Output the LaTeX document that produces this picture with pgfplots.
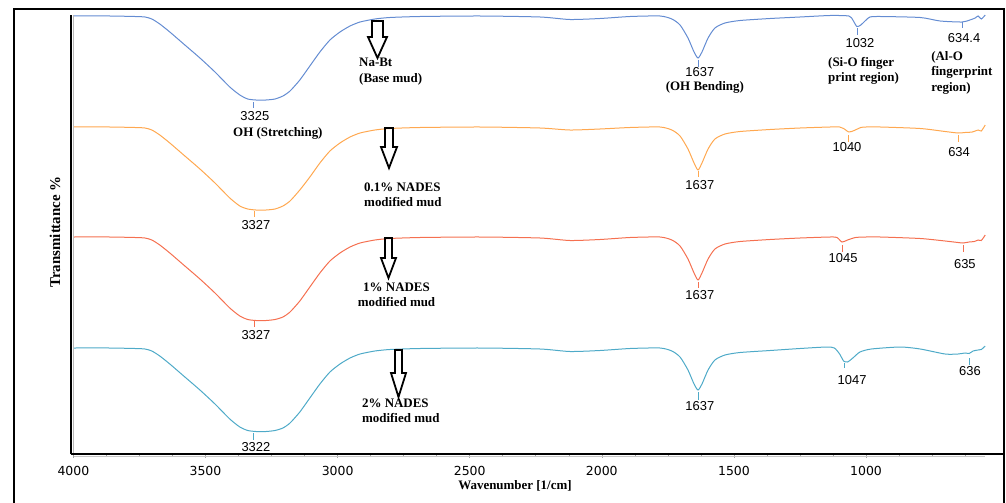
\documentclass[border=0pt]{standalone}
\usepackage{pgfplots}
\pgfplotsset{compat=1.18}
\usepackage{fontspec}
\setmainfont{Liberation Serif}
\newfontfamily\arialf{Liberation Sans}
\newfontfamily\dejavuf{DejaVu Sans}
\definecolor{cBlue}{RGB}{100,140,210}
\definecolor{cOrange}{RGB}{255,168,80}
\definecolor{cRed}{RGB}{245,112,80}
\definecolor{cTeal}{RGB}{78,170,200}
\newcommand{\pk}{\arialf\fontsize{13}{15}\selectfont}
\newcommand{\an}{\bfseries\fontsize{13}{15.5}\selectfont}
\begin{document}
\begin{tikzpicture}
\useasboundingbox (0bp,0bp) rectangle (1006bp,-503bp);
\draw[line width=2bp] (14bp,-510bp) -- (14bp,-9bp) -- (1004bp,-9bp) -- (1004bp,-510bp);
\begin{axis}[at={(71bp,-454bp)}, anchor=south west, scale only axis,
  width=933bp, height=439bp,
  xmin=478, xmax=4009, x dir=reverse, ymin=0, ymax=439,
  axis x line=bottom, axis y line=left,
  axis line style={-, line width=2.5bp, black},
  ytick=\empty,
  xtick={1000,1500,2000,2500,3000,3500,4000},
  minor xtick={625,750,875,1125,1250,1375,1625,1750,1875,2125,2250,2375,2625,2750,2875,3125,3250,3375,3625,3750,3875},
  tick align=outside, major tick length=4bp, minor tick length=3bp,
  xtick style={color=gray!70, line width=0.6bp},
  xticklabel style={font=\dejavuf\fontsize{12.5}{14}\selectfont, inner sep=0pt, anchor=north, yshift=-8.5bp},
  /pgf/number format/assume math mode=true,
  /pgf/number format/1000 sep={},
  clip=false,
  every axis plot/.append style={line width=1bp, smooth, tension=0.4, mark=none},
]
% Na-Bt (base mud)
\addplot[cBlue] coordinates {
(4000,438) (3862,438) (3767,437.5) (3729,437) (3703,435) (3673,430) (3635,422) (3578,409) (3521,396) (3464,382) (3408,367) (3370,359) (3340,355) (3309,354) (3271,354) (3237,355) (3207,358) (3180,363) (3143,374) (3105,388) (3067,402) (3029,414) (2991,422) (2953,428) (2915,432) (2859,435) (2802,436.5) (2688,437.5) (2461,438) (2234,437) (2121,434.5) (2007,435.5) (1893,437.5) (1780,438) (1735,435) (1704,429) (1674,416) (1651,402) (1636,396) (1621,402) (1598,416) (1572,426) (1534,431) (1477,433.5) (1363,435.5) (1250,437) (1136,438.5) (1065,438) (1050,434) (1035,427.5) (1020,429) (1000,434) (985,437) (946,437.5) (795,436.5) (720,433) (637,432) (607,434) (587,436) (576,438) (564,435) (549,439)};
% 0.1% NADES
\addplot[cOrange] coordinates {
(4000,327) (3862,327) (3767,326.5) (3729,326) (3703,324) (3673,319) (3635,311) (3578,298) (3521,285) (3464,271) (3408,256) (3370,248) (3340,245) (3309,244) (3271,244) (3237,245) (3207,248) (3180,253) (3143,264) (3105,277) (3067,291) (3029,303) (2991,311) (2953,317) (2915,321) (2859,324) (2802,325.5) (2688,326.5) (2461,327) (2234,326) (2121,324) (2007,325) (1893,326.5) (1780,327) (1735,324) (1704,318) (1674,305) (1651,291) (1636,284) (1621,291) (1598,305) (1572,315) (1534,320) (1477,322.5) (1363,324.5) (1250,326) (1136,327) (1100,327) (1085,325.5) (1065,322) (1045,323.5) (1020,326.5) (1000,327) (946,327) (795,325.5) (701,322.5) (652,321) (625,321.5) (598,322) (576,324) (564,323) (549,329)};
% 1% NADES
\addplot[cRed] coordinates {
(4000,217) (3862,217) (3767,216.5) (3729,216) (3703,214) (3673,209) (3635,201) (3578,188) (3521,175) (3464,161) (3408,146) (3370,138) (3340,134.5) (3309,133.5) (3271,133.5) (3237,134.5) (3207,137) (3180,142) (3143,153) (3105,167) (3067,181) (3029,193) (2991,201) (2953,207) (2915,211) (2859,214) (2802,215.5) (2688,216.5) (2461,217) (2234,216) (2121,213.5) (2007,214.5) (1893,216.5) (1780,217) (1735,214) (1704,208) (1674,195) (1651,181) (1636,174) (1621,181) (1598,195) (1572,205) (1534,210) (1477,212.5) (1363,214.5) (1250,216) (1136,217) (1110,216.5) (1091,212) (1070,214) (1040,216.5) (1000,217) (946,217) (795,215.5) (701,213) (652,211.5) (633,211) (610,212) (590,212.5) (576,214) (564,213.5) (549,219)};
% 2% NADES
\addplot[cTeal] coordinates {
(4000,106) (3862,106) (3767,105.5) (3729,105) (3703,103) (3673,98) (3635,90) (3578,77) (3521,64) (3464,50) (3408,35) (3370,27) (3340,23.5) (3309,22.5) (3271,22.5) (3237,23.5) (3207,26) (3180,31) (3143,42) (3105,56) (3067,70) (3029,82) (2991,90) (2953,96) (2915,100) (2859,103) (2802,104.5) (2688,105.5) (2461,106) (2234,105) (2121,102.5) (2007,103.5) (1893,105.5) (1780,106) (1735,103) (1704,97) (1674,84) (1651,70) (1636,64) (1621,70) (1598,84) (1572,94) (1534,99) (1477,101.5) (1363,103.5) (1250,105.5) (1150,107) (1120,106) (1100,100) (1085,93) (1070,92) (1050,96) (1023,102) (980,105) (871,107) (795,105) (701,100) (652,100) (625,101) (610,100.5) (595,103) (576,104) (564,104.5) (549,108)};

% peak ticks and labels
\draw[cBlue, line width=0.9bp] (axis cs:3320,352) -- (axis cs:3320,346);
\draw[cBlue, line width=0.9bp] (axis cs:1636,394) -- (axis cs:1636,387);
\draw[cBlue, line width=0.9bp] (axis cs:1031,426) -- (axis cs:1031,419);
\draw[cBlue, line width=0.9bp] (axis cs:637,432) -- (axis cs:637,426);
\node[font=\pk, inner sep=0pt] at (axis cs:3313,338) {3325};
\node[font=\pk, inner sep=0pt] at (axis cs:1629,382) {1637};
\node[font=\pk, inner sep=0pt] at (axis cs:1023,411) {1032};
\node[font=\pk, inner sep=0pt] at (axis cs:629,416) {634.4};

\draw[cOrange, line width=0.9bp] (axis cs:3316,243) -- (axis cs:3316,237);
\draw[cOrange, line width=0.9bp] (axis cs:1636,283) -- (axis cs:1636,277);
\draw[cOrange, line width=0.9bp] (axis cs:1065,319) -- (axis cs:1065,312);
\draw[cOrange, line width=0.9bp] (axis cs:652,319) -- (axis cs:652,312);
\node[font=\pk, inner sep=0pt] at (axis cs:3309,229) {3327};
\node[font=\pk, inner sep=0pt] at (axis cs:1629,269) {1637};
\node[font=\pk, inner sep=0pt] at (axis cs:1072,307) {1040};
\node[font=\pk, inner sep=0pt] at (axis cs:648,302) {634};

\draw[cRed, line width=0.9bp] (axis cs:3316,133) -- (axis cs:3316,127);
\draw[cRed, line width=0.9bp] (axis cs:1636,172) -- (axis cs:1636,166);
\draw[cRed, line width=0.9bp] (axis cs:1091,209) -- (axis cs:1091,202);
\draw[cRed, line width=0.9bp] (axis cs:633,209) -- (axis cs:633,202);
\node[font=\pk, inner sep=0pt] at (axis cs:3309,119) {3327};
\node[font=\pk, inner sep=0pt] at (axis cs:1629,159) {1637};
\node[font=\pk, inner sep=0pt] at (axis cs:1087,196) {1045};
\node[font=\pk, inner sep=0pt] at (axis cs:626,190) {635};

\draw[cTeal, line width=0.9bp] (axis cs:3320,21) -- (axis cs:3320,14);
\draw[cTeal, line width=0.9bp] (axis cs:1636,62) -- (axis cs:1636,54);
\draw[cTeal, line width=0.9bp] (axis cs:1080,91) -- (axis cs:1080,86);
\draw[cTeal, line width=0.9bp] (axis cs:607,96) -- (axis cs:607,89);
\node[font=\pk, inner sep=0pt] at (axis cs:3309,7) {3322};
\node[font=\pk, inner sep=0pt] at (axis cs:1629,48) {1637};
\node[font=\pk, inner sep=0pt] at (axis cs:1053,74) {1047};
\node[font=\pk, inner sep=0pt] at (axis cs:607,83) {636};

% text annotations
\node[font=\an, inner sep=0pt, anchor=west, align=left] at (axis cs:2919,382.5) {Na-Bt\\(Base mud)};
\node[font=\an, inner sep=0pt, anchor=west, align=left] at (axis cs:2900,259.5) {0.1\% NADES\\modified mud};
\node[font=\an, inner sep=0pt, align=center] at (axis cs:2777,159.5) {1\% NADES\\modified mud};
\node[font=\an, inner sep=0pt, anchor=west, align=left] at (axis cs:2908,43) {2\% NADES\\modified mud};
\node[font=\an, inner sep=0pt] at (axis cs:3226,321) {OH (Stretching)};
\node[font=\an, inner sep=0pt] at (axis cs:1610,367) {(OH Bending)};
\node[font=\an, inner sep=0pt, anchor=west, align=left] at (axis cs:1144,383) {(Si-O finger\\print region)};
\node[font=\an, inner sep=0pt, anchor=west, align=left] at (axis cs:754,381.5) {(Al-O\\fingerprint\\region)};
\end{axis}
% axis decorations
\draw[gray!55, line width=1.2bp] (73.8bp,-15bp) -- (73.8bp,-453bp);
\draw[gray!45, line width=1.5bp] (74bp,-456.3bp) -- (985bp,-456.3bp);
% hollow arrows
\begin{scope}[line width=1.8bp, line join=miter]
\draw (372bp,-21bp) -- (383bp,-21bp) -- (383bp,-37bp) -- (387bp,-37bp) -- (377.5bp,-58bp) -- (368bp,-37bp) -- (372bp,-37bp) -- cycle;
\draw (385bp,-128bp) -- (393bp,-128bp) -- (393bp,-147bp) -- (397bp,-147bp) -- (389bp,-168bp) -- (381bp,-147bp) -- (385bp,-147bp) -- cycle;
\draw (385bp,-238bp) -- (392bp,-238bp) -- (392bp,-258bp) -- (396bp,-258bp) -- (388.5bp,-278bp) -- (381bp,-258bp) -- (385bp,-258bp) -- cycle;
\draw (395bp,-350bp) -- (402bp,-350bp) -- (402bp,-373bp) -- (406bp,-373bp) -- (398.5bp,-397bp) -- (391bp,-373bp) -- (395bp,-373bp) -- cycle;
\end{scope}
% axis titles
\node[font=\bfseries\fontsize{15}{17}\selectfont, rotate=90, inner sep=0pt] at (55bp,-232bp) {Transmittance \%};
\node[font=\bfseries\fontsize{13}{15}\selectfont, inner sep=0pt] at (515bp,-486bp) {Wavenumber [1/cm]};
\end{tikzpicture}
\end{document}
